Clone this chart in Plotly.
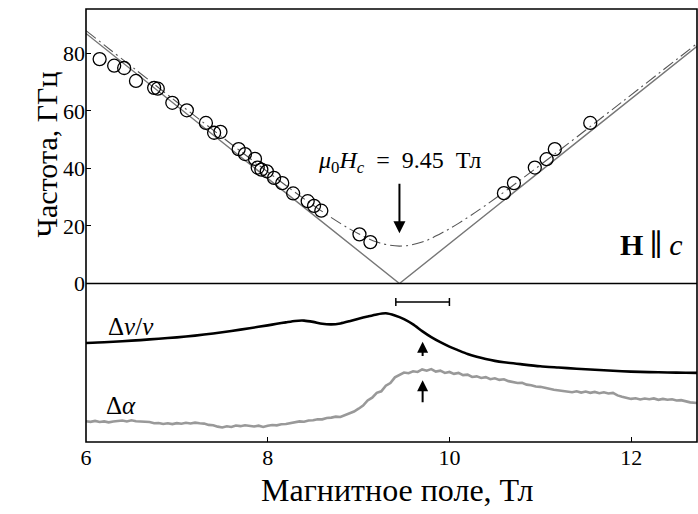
import plotly.graph_objects as go

# ---- data ----
# resonance points (field, T ; frequency, GHz)
pts_H = [6.15, 6.31, 6.42, 6.55, 6.75, 6.79, 6.95, 7.11, 7.32, 7.41, 7.48, 7.68, 7.75,
         7.86, 7.89, 7.93, 7.99, 8.07, 8.16, 8.28, 8.44, 8.51, 8.59, 9.01, 9.13,
         10.60, 10.71, 10.94, 11.07, 11.16, 11.55]
pts_f = [78.0, 75.7, 74.9, 70.4, 68.0, 67.7, 62.8, 60.2, 55.8, 52.4, 52.7, 46.7, 45.0,
         43.3, 40.3, 39.6, 39.0, 36.7, 34.9, 31.3, 28.6, 27.0, 25.3, 17.1, 14.4,
         31.4, 34.9, 40.3, 43.2, 46.7, 55.8]

# gapless (solid) branch
v_H = [6.0, 9.45, 12.725]
v_f = [86.9, 0.0, 82.4]

# gapped (dash-dot) branch
g_H = [6.0, 7.0, 8.0, 8.5, 8.8, 9.0, 9.2, 9.45, 9.7, 9.9, 10.1, 10.4, 10.9, 11.9, 12.725]
g_f = [87.9, 63.1, 38.8, 27.2, 20.9, 17.3, 14.4, 13.0, 14.4, 17.3, 20.9, 27.2, 38.8, 63.1, 83.4]

# sound velocity (arb. units)
dv_H = [6.0, 6.2, 6.4, 6.6, 6.8, 7.0, 7.2, 7.4, 7.6, 7.8, 8.0, 8.1, 8.2, 8.3, 8.4, 8.5,
        8.6, 8.7, 8.8, 8.9, 9.0, 9.1, 9.2, 9.3, 9.4, 9.5, 9.6, 9.7, 9.8, 9.9, 10.0,
        10.1, 10.2, 10.3, 10.4, 10.5, 10.6, 10.8, 11.0, 11.2, 11.4, 11.6, 11.8, 12.0,
        12.2, 12.4, 12.6, 12.725]
dv_y = [6.25, 6.29, 6.36, 6.43, 6.52, 6.60, 6.71, 6.85, 7.00, 7.18, 7.36, 7.46, 7.55,
        7.64, 7.66, 7.58, 7.46, 7.42, 7.48, 7.62, 7.78, 7.92, 8.05, 8.12, 7.98, 7.75,
        7.42, 7.00, 6.62, 6.30, 6.02, 5.78, 5.55, 5.38, 5.24, 5.12, 5.03, 4.90, 4.78,
        4.70, 4.62, 4.56, 4.50, 4.44, 4.41, 4.39, 4.37, 4.36]

# sound attenuation (arb. units)
da_H = [6.00, 6.05, 6.10, 6.15, 6.20, 6.25, 6.30, 6.35, 6.40, 6.45, 6.50, 6.55, 6.60,
        6.65, 6.70, 6.75, 6.80, 6.85, 6.90, 6.95, 7.00, 7.05, 7.10, 7.15, 7.20, 7.25,
        7.30, 7.35, 7.40, 7.45, 7.50, 7.55, 7.60, 7.65, 7.70, 7.75, 7.80, 7.85, 7.90,
        7.95, 8.00, 8.05, 8.10, 8.15, 8.20, 8.25, 8.30, 8.35, 8.40, 8.45, 8.50, 8.55,
        8.60, 8.65, 8.70, 8.75, 8.80, 8.85, 8.90, 8.95, 9.00, 9.05, 9.10, 9.15, 9.20,
        9.25, 9.30, 9.35, 9.40, 9.45, 9.50, 9.55, 9.60, 9.65, 9.70, 9.75, 9.80, 9.85,
        9.90, 9.95, 10.00, 10.05, 10.10, 10.15, 10.20, 10.25, 10.30, 10.35, 10.40,
        10.45, 10.50, 10.55, 10.60, 10.65, 10.70, 10.75, 10.80, 10.85, 10.90, 10.95,
        11.00, 11.05, 11.10, 11.15, 11.20, 11.25, 11.30, 11.35, 11.40, 11.45, 11.50,
        11.55, 11.60, 11.65, 11.70, 11.75, 11.80, 11.85, 11.90, 11.95, 12.00, 12.05,
        12.10, 12.15, 12.20, 12.25, 12.30, 12.35, 12.40, 12.45, 12.50, 12.55, 12.60,
        12.65, 12.725]
da_y = [1.31, 1.27, 1.33, 1.26, 1.30, 1.24, 1.29, 1.31, 1.36, 1.30, 1.37, 1.31, 1.29,
        1.24, 1.26, 1.18, 1.20, 1.14, 1.18, 1.13, 1.19, 1.15, 1.21, 1.17, 1.22, 1.18,
        1.16, 1.08, 1.06, 0.97, 0.92, 0.99, 0.95, 1.04, 1.00, 1.06, 1.01, 0.98, 1.03,
        0.95, 1.02, 1.07, 1.05, 1.12, 1.14, 1.20, 1.24, 1.30, 1.28, 1.36, 1.37, 1.44,
        1.43, 1.52, 1.54, 1.60, 1.58, 1.70, 1.78, 1.92, 2.10, 2.30, 2.62, 2.80, 3.10,
        3.20, 3.55, 3.72, 4.08, 4.22, 4.38, 4.34, 4.46, 4.42, 4.58, 4.50, 4.60, 4.44,
        4.50, 4.36, 4.42, 4.30, 4.36, 4.22, 4.25, 4.10, 4.14, 4.04, 4.09, 3.96, 4.02,
        3.92, 3.96, 3.84, 3.80, 3.72, 3.74, 3.62, 3.58, 3.50, 3.48, 3.40, 3.36, 3.30,
        3.27, 3.20, 3.18, 3.14, 3.20, 3.12, 3.18, 3.10, 3.16, 3.08, 3.14, 3.06, 3.10,
        2.94, 2.86, 2.78, 2.72, 2.76, 2.68, 2.74, 2.70, 2.75, 2.66, 2.72, 2.67, 2.70,
        2.62, 2.64, 2.55, 2.50, 2.46]

Hc = 9.45
bar_H = [9.705]
bar_err = [0.295]
bar_y = [8.84]
arrow_H = 9.705

FONT = "'Liberation Serif', 'Times New Roman', 'DejaVu Serif', serif"

fig = go.Figure()

# top panel
fig.add_trace(go.Scatter(x=v_H, y=v_f, mode="lines", xaxis="x2", yaxis="y",
                         line=dict(color="#777777", width=1.4), showlegend=False))
fig.add_trace(go.Scatter(x=g_H, y=g_f, mode="lines", xaxis="x2", yaxis="y",
                         line=dict(color="#555555", width=1.1, dash="12px,4px,2px,4px",
                                   shape="spline", smoothing=1.0), showlegend=False))
fig.add_trace(go.Scatter(x=pts_H, y=pts_f, mode="markers", xaxis="x2", yaxis="y",
                         marker=dict(symbol="circle-open", size=13, color="black",
                                     line=dict(width=1.3, color="black")),
                         showlegend=False))

# bottom panel
fig.add_trace(go.Scatter(x=da_H, y=da_y, mode="lines", xaxis="x", yaxis="y2",
                         line=dict(color="#999999", width=2.6), showlegend=False))
fig.add_trace(go.Scatter(x=dv_H, y=dv_y, mode="lines", xaxis="x", yaxis="y2",
                         line=dict(color="black", width=2.6, shape="spline", smoothing=0.6),
                         showlegend=False))
fig.add_trace(go.Scatter(x=bar_H, y=bar_y, mode="markers", xaxis="x", yaxis="y2",
                         marker=dict(size=1, color="rgba(0,0,0,0)"),
                         error_x=dict(type="data", array=bar_err, visible=True,
                                      color="black", thickness=1.5, width=4),
                         showlegend=False))

XR = [6, 12.725]
dom_split = 0.366

fig.update_layout(
    width=698, height=514,
    margin=dict(l=86, r=1, t=9, b=72),
    paper_bgcolor="white", plot_bgcolor="white",
    font=dict(family=FONT, color="black", size=20),
    xaxis=dict(domain=[0, 1], range=XR, anchor="y2", showgrid=False, zeroline=False,
               tickvals=[6, 8, 10, 12], ticks="inside", ticklen=5, tickwidth=1.2,
               tickcolor="black", tickfont=dict(size=22, family=FONT), showline=False),
    xaxis2=dict(domain=[0, 1], range=XR, anchor="y", matches="x", showgrid=False,
                zeroline=False, showticklabels=False, ticks="", showline=False),
    yaxis=dict(domain=[dom_split, 1], range=[0, 95.4], anchor="x2", showgrid=False,
               zeroline=False, tickvals=[0, 20, 40, 60, 80], ticks="inside", ticklen=5,
               tickwidth=1.2, tickcolor="black", tickfont=dict(size=22, family=FONT),
               showline=False),
    yaxis2=dict(domain=[0, dom_split], range=[0, 10], anchor="x", showgrid=False,
                zeroline=False, showticklabels=False, ticks="", showline=False),
    shapes=[
        dict(type="rect", xref="paper", yref="paper", x0=0, x1=1, y0=0, y1=1,
             line=dict(color="black", width=1.6)),
        dict(type="line", xref="paper", yref="paper", x0=0, x1=1, y0=dom_split, y1=dom_split,
             line=dict(color="black", width=1.3)),
    ],
    annotations=[
        dict(x=Hc, y=17.5, xref="x2", yref="y", ax=Hc, ay=35.2, axref="x2", ayref="y",
             showarrow=True, arrowhead=2, arrowsize=1.2, arrowwidth=2, arrowcolor="black",
             text=""),
        dict(x=arrow_H, y=6.32, xref="x", yref="y2", ax=arrow_H, ay=5.33, axref="x",
             ayref="y2", showarrow=True, arrowhead=2, arrowsize=1.1, arrowwidth=2,
             arrowcolor="black", text=""),
        dict(x=arrow_H, y=3.89, xref="x", yref="y2", ax=arrow_H, ay=2.42, axref="x",
             ayref="y2", showarrow=True, arrowhead=2, arrowsize=1.1, arrowwidth=2,
             arrowcolor="black", text=""),
        dict(x=9.45, y=42.2, xref="x2", yref="y", showarrow=False,
             text="<i>μ</i><sub>0</sub><i>H</i><sub><i>c</i></sub>\u2002=\u20029.45\u2002Тл",
             font=dict(size=24, family=FONT)),
        dict(x=12.22, y=13.5, xref="x2", yref="y", showarrow=False,
             text="<b>H</b>\u2009∥\u2009<i>c</i>", font=dict(size=30, family=FONT)),
        dict(x=6.22, y=7.3, xref="x", yref="y2", showarrow=False, xanchor="left",
             text="Δ<i>v</i>/<i>v</i>", font=dict(size=25, family=FONT)),
        dict(x=6.2, y=2.3, xref="x", yref="y2", showarrow=False, xanchor="left",
             text="Δ<i>α</i>", font=dict(size=25, family=FONT)),
        dict(x=0.51, y=-0.111, xref="paper", yref="paper", showarrow=False,
             yanchor="middle", text="Магнитное поле, Тл",
             font=dict(size=32, family=FONT)),
        dict(x=-0.095, y=0.665, xref="paper", yref="paper", showarrow=False, textangle=-90,
             text="Частота, ГГц", font=dict(size=30, family=FONT)),
    ],
)

fig.write_html("out.html")
